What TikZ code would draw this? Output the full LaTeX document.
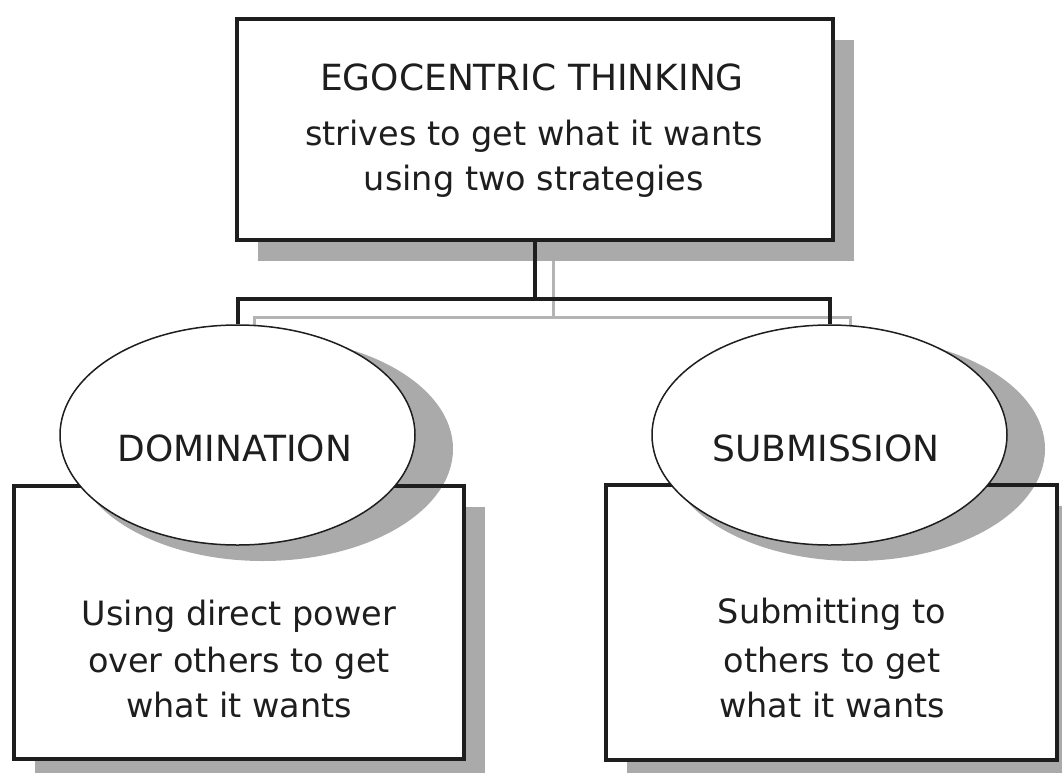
\documentclass[tikz,border=0pt]{standalone}
\usepackage{fontspec}
\setmainfont{DejaVu Sans}
\usetikzlibrary{shapes.geometric}
\definecolor{shade}{RGB}{170,170,170}
\definecolor{lineshade}{RGB}{180,180,180}
\definecolor{ink}{RGB}{30,30,30}
\begin{document}
\begin{tikzpicture}[x=1pt,y=-1pt,
  boxframe/.style={draw=ink,line width=4pt,fill=white,rectangle,inner sep=0pt},
  boxshade/.style={fill=shade,rectangle,inner sep=0pt,draw=none},
  ovalframe/.style={ellipse,draw=ink,line width=1.5pt,fill=white,inner sep=0pt,minimum width=355pt,minimum height=220pt},
  ovalshade/.style={ellipse,fill=shade,draw=none,inner sep=0pt,minimum width=380pt,minimum height=224pt},
  txt/.style={anchor=base,inner sep=0pt,text=ink,font=\fontsize{33.5}{40}\selectfont},
  captxt/.style={anchor=base,inner sep=0pt,text=ink,font=\fontsize{36}{40}\selectfont},
  link/.style={draw=ink,line width=4pt},
  linkshade/.style={draw=lineshade,line width=3pt}]
\useasboundingbox (0,0) rectangle (1062,772);

% shadows of boxes
\node[boxshade,minimum width=596pt,minimum height=221pt] (topsh) at (556,150.5) {};
\node[boxshade,minimum width=450pt,minimum height=273pt] (domboxsh) at (260,643.5) {};
\node[boxshade,minimum width=451pt,minimum height=275pt] (subboxsh) at (852.5,643.5) {};

% shadow connector
\coordinate (shj) at (553,317);
\coordinate (shl) at (254,330);
\coordinate (shr) at (850,330);
\draw[linkshade] (topsh.south -| shj) -- (shj);
\draw[linkshade] (shl) |- (shj) -| (shr);

% main top box
\node[boxframe,minimum width=596pt,minimum height=221pt] (top) at (535,129.5) {};

% lower boxes (fill only first)
\node[boxframe,draw=none,minimum width=450pt,minimum height=273pt] (dombox) at (239,622.5) {};
\node[boxframe,draw=none,minimum width=451pt,minimum height=275pt] (subbox) at (831.5,622.5) {};

% ellipse shadows
\node[ovalshade] (domsh) at (263,449) {};
\node[ovalshade] (subsh) at (855,449) {};

% box frames
\node[boxframe,fill=none,minimum width=450pt,minimum height=273pt] (domframe) at (239,622.5) {};
\node[boxframe,fill=none,minimum width=451pt,minimum height=275pt] (subframe) at (831.5,622.5) {};

% ellipses
\node[ovalframe] (dom) at (237.5,435) {};
\node[ovalframe] (sub) at (829.5,435) {};

% main connector
\coordinate (j) at (535,299);
\draw[link] (top.south) -- (j);
\draw[link] (dom.north) |- (j) -| (sub.north);

% texts
\node[captxt] (t1) at (532,90) {EGOCENTRIC THINKING};
\node[txt] (t2) at (534,145) {strives to get what it wants};
\node[txt] (t3) at (534,190) {using two strategies};

\node[captxt] (d0) at (235,461) {DOMINATION};
\node[captxt] (s0) at (826,461) {SUBMISSION};

\node[txt] (d1) at (239,625) {Using direct power};
\node[txt] (d2) at (239,672) {over others to get};
\node[txt] (d3) at (239,717) {what it wants};

\node[txt] (s1) at (832,623) {Submitting to};
\node[txt] (s2) at (832,672) {others to get};
\node[txt] (s3) at (832,717) {what it wants};
\end{tikzpicture}
\end{document}
